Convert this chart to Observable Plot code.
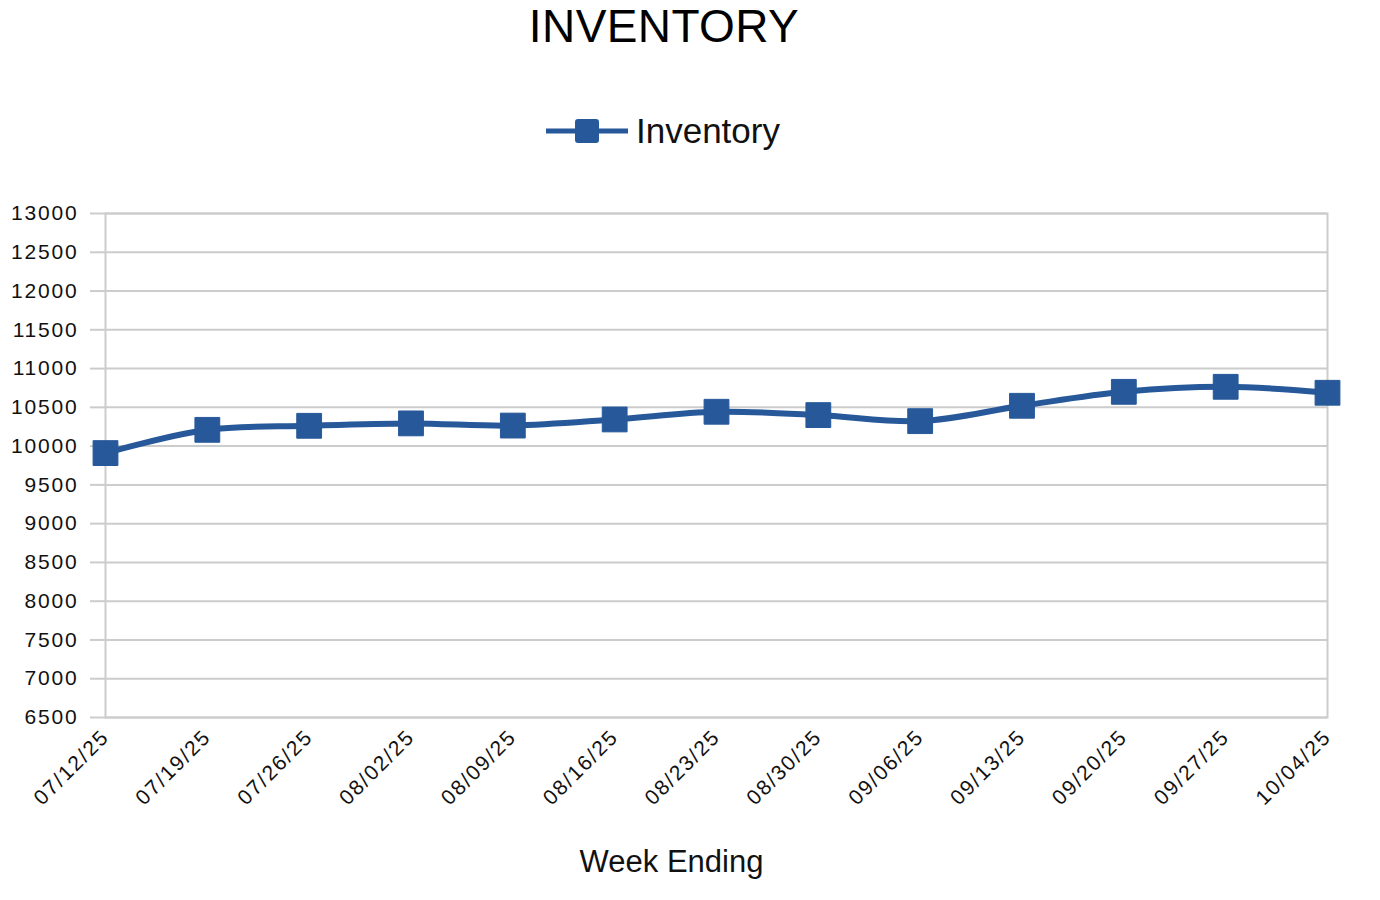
<!DOCTYPE html>
<html>
<head>
<meta charset="utf-8">
<script src="https://cdn.jsdelivr.net/npm/d3@7"></script>
<script src="https://cdn.jsdelivr.net/npm/@observablehq/plot@0.6"></script>
<style>
  html, body { margin: 0; padding: 0; background: #fff; }
  body { width: 1380px; height: 900px; overflow: hidden; font-family: "Liberation Sans", Arial, Helvetica, sans-serif; }
  #header { position: relative; width: 1380px; height: 170px; }
  #title { position: absolute; left: 464px; width: 400px; top: 3px; text-align: center; font-size: 46px; color: #000; line-height: 46px; letter-spacing: 0.4px; }
  #legend { position: absolute; left: 546px; top: 111px; display: flex; align-items: center; }
  #legend span { font-size: 35px; color: #111; margin-left: 8px; line-height: 40px; }
  g[aria-label="y-axis tick label"] text { letter-spacing: 1.8px; }
  g[aria-label="x-axis tick label"] text { letter-spacing: 1.8px; }
</style>
</head>
<body>
<div id="header">
  <div id="title">INVENTORY</div>
  <div id="legend">
    <svg width="82" height="40"><line x1="0" y1="20" x2="82" y2="20" stroke="#27599a" stroke-width="5"/><rect x="29" y="8" width="24" height="24" rx="3" fill="#27599a"/></svg>
    <span>Inventory</span>
  </div>
</div>
<div id="chart"></div>
<script>
const weeks = ["07/12/25","07/19/25","07/26/25","08/02/25","08/09/25","08/16/25","08/23/25","08/30/25","09/06/25","09/13/25","09/20/25","09/27/25","10/04/25"];
const inventory = [9910, 10210, 10262, 10293, 10265, 10344, 10443, 10400, 10322, 10520, 10700, 10765, 10688];
const yTicks = [6500, 7000, 7500, 8000, 8500, 9000, 9500, 10000, 10500, 11000, 11500, 12000, 12500, 13000];

const data = weeks.map((w, i) => ({week: w, value: inventory[i]}));
const blue = "#27599a";
const gray = "#cccccc";

const chart = Plot.plot({
  width: 1380,
  height: 730,
  marginTop: 43,
  marginBottom: 183,
  marginLeft: 105,
  marginRight: 53,
  style: {fontFamily: "'Liberation Sans', Arial, Helvetica, sans-serif", fontSize: "21px", color: "#111", background: "#fff"},
  x: {type: "point", domain: weeks, padding: 0, round: false, label: null},
  y: {domain: [6500, 13000], label: null},
  marks: [
    Plot.gridY(yTicks, {stroke: gray, strokeOpacity: 1, strokeWidth: 2}),
    Plot.frame({stroke: gray, strokeWidth: 2}),
    Plot.axisY(yTicks, {tickSize: 15, tickPadding: 12, stroke: gray, strokeWidth: 2, label: null, fill: "#111", tickFormat: d3.format("d")}),
    Plot.axisX({tickSize: 0, tickPadding: 16, tickRotate: -45, label: null, fill: "#111"}),
    Plot.line(data, {x: "week", y: "value", stroke: blue, strokeWidth: 6, curve: "catmull-rom"}),
    Plot.dot(data, {x: "week", y: "value", symbol: "square", r: 14, fill: blue, stroke: blue, strokeWidth: 1, strokeLinejoin: "round"}),
    Plot.text(["Week Ending"], {frameAnchor: "bottom", dx: -45, dy: 145, lineAnchor: "middle", fontSize: 31, fill: "#111"})
  ]
});
document.getElementById("chart").appendChild(chart);
</script>
</body>
</html>
